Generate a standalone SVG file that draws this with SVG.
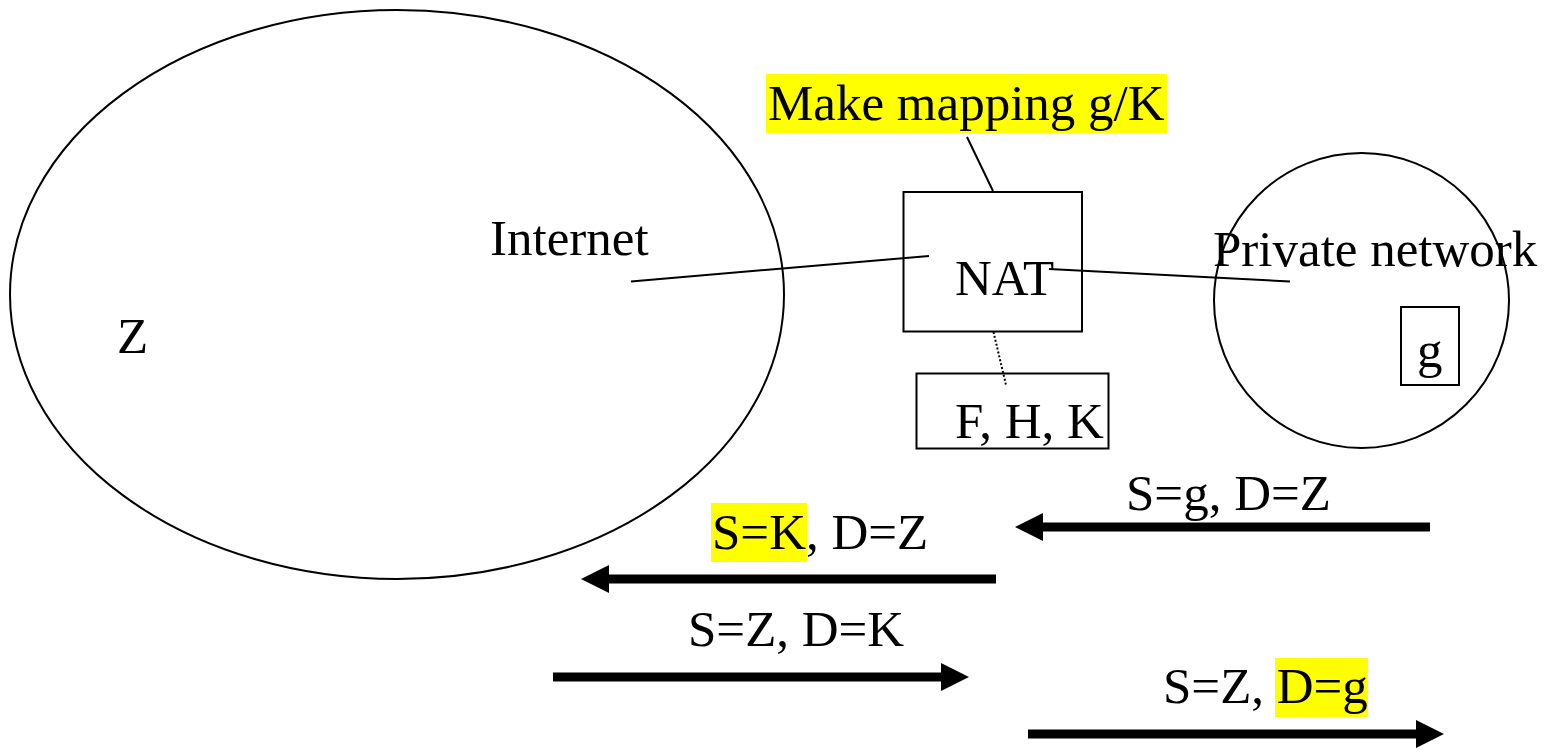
<svg xmlns="http://www.w3.org/2000/svg" width="1547" height="750" viewBox="0 0 1547 750">
  <style>
    text { font-family: "Liberation Serif", "Times New Roman", serif; font-size: 51px; fill: #000; }
    .outline { fill: none; stroke: #000; stroke-width: 2; }
    .box { fill: #fff; stroke: #000; stroke-width: 2; }
    .link { stroke: #000; stroke-width: 2; fill: none; }
    .dots { stroke: #000; stroke-width: 2; stroke-dasharray: 2 2; fill: none; }
    .flow { stroke: #000; stroke-width: 9; fill: none; marker-end: url(#head); }
    .mark { fill: #ffff00; }
  </style>
  <defs>
    <marker id="head" markerUnits="userSpaceOnUse" markerWidth="30" markerHeight="30" refX="1" refY="14" orient="auto">
      <path d="M0,0 L28,14 L0,28 z" fill="#000"/>
    </marker>
  </defs>

  <g id="internet">
    <ellipse class="outline" cx="397" cy="294.5" rx="387" ry="284.5"/>
    <text x="490" y="255">Internet</text>
    <text x="117" y="353">Z</text>
  </g>

  <g id="private-network">
    <circle class="outline" cx="1361.5" cy="300.5" r="147.5"/>
    <text x="1213" y="266">Private network</text>
  </g>

  <g id="host-g">
    <rect class="box" x="1401" y="307" width="58" height="78"/>
    <text x="1417" y="367">g</text>
  </g>

  <g id="nat">
    <rect class="box" x="903.5" y="192" width="178.5" height="139.5"/>
    <text x="955" y="295">NAT</text>
  </g>

  <g id="addresses">
    <rect class="box" x="916.5" y="373.5" width="192" height="75"/>
    <text x="955" y="438">F, H, K</text>
  </g>

  <g id="mapping-note">
    <rect class="mark" x="766" y="74" width="401" height="59"/>
    <text x="768" y="120">Make mapping g/K</text>
  </g>

  <g id="connectors">
    <line class="link" x1="967" y1="137" x2="993" y2="191"/>
    <line class="link" x1="631" y1="281.5" x2="929" y2="256"/>
    <line class="link" x1="1049" y1="269" x2="1290" y2="281.5"/>
    <line class="dots" x1="993.5" y1="332" x2="1006" y2="385"/>

    <line class="flow" x1="1430" y1="527" x2="1042" y2="527"/>
    <line class="flow" x1="996" y1="579" x2="608" y2="579"/>
    <line class="flow" x1="553" y1="677" x2="942" y2="677"/>
    <line class="flow" x1="1028" y1="734" x2="1417" y2="734"/>
  </g>

  <g id="packet-labels">
    <text x="1126" y="510">S=g, D=Z</text>

    <rect class="mark" x="711" y="503" width="96" height="59"/>
    <text x="712" y="549">S=K, D=Z</text>

    <text x="688" y="646">S=Z, D=K</text>

    <rect class="mark" x="1275" y="658" width="93" height="59"/>
    <text x="1163" y="703">S=Z, D=g</text>
  </g>
</svg>
